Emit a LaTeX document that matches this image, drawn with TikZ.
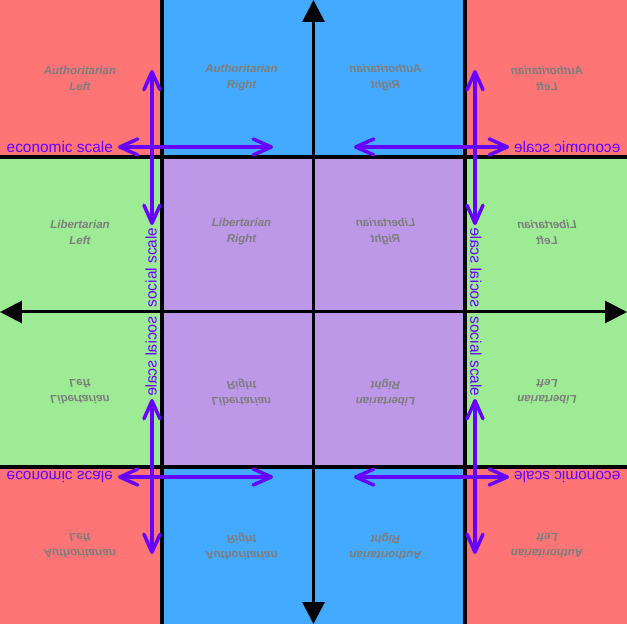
\documentclass[tikz,border=0pt]{standalone}
\usepackage{fontspec}
\setmainfont{Liberation Sans}
\usetikzlibrary{arrows.meta}
\definecolor{cred}{RGB}{255,117,117}
\definecolor{cblue}{RGB}{68,170,255}
\definecolor{cgreen}{RGB}{157,235,148}
\definecolor{cpurple}{RGB}{190,152,232}
\definecolor{txtgray}{RGB}{125,125,125}
\definecolor{apurple}{RGB}{102,0,255}
\tikzset{
  qlabel/.style={font=\fontsize{11.5}{16}\selectfont\bfseries\itshape, text=txtgray, align=center, inner sep=0pt},
  scalelabel/.style={font=\fontsize{15.4}{18}\selectfont, text=apurple, inner sep=0pt},
  scalearrow/.style={draw=apurple, line width=3.5pt, line cap=round,
    {Straight Barb[round,length=18pt,width=16pt]}-{Straight Barb[round,length=18pt,width=16pt]}},
  gridline/.style={draw=black, line width=4pt},
  axisline/.style={draw=black, line width=3pt,
    {Triangle[length=22pt,width=22pt]}-{Triangle[length=22pt,width=22pt]}}
}
\begin{document}
\begin{tikzpicture}[x=1pt,y=1pt]
\useasboundingbox (-313.5,-312) rectangle (313.5,312);
% cell fills
\fill[cred] (-313.5,154.5) rectangle (-151.5,312);
\fill[cred] (151.5,154.5) rectangle (313.5,312);
\fill[cred] (-313.5,-312) rectangle (-151.5,-154.5);
\fill[cred] (151.5,-312) rectangle (313.5,-154.5);
\fill[cblue] (-151.5,154.5) rectangle (151.5,312);
\fill[cblue] (-151.5,-312) rectangle (151.5,-154.5);
\fill[cgreen] (-313.5,-154.5) rectangle (-151.5,154.5);
\fill[cgreen] (151.5,-154.5) rectangle (313.5,154.5);
\fill[cpurple] (-151.5,-154.5) rectangle (151.5,154.5);
% grid lines
\coordinate (g1t) at (-151.5,312); \coordinate (g1b) at (-151.5,-312);
\coordinate (g2t) at (151.5,312);  \coordinate (g2b) at (151.5,-312);
\coordinate (g3l) at (-313.5,154.5); \coordinate (g3r) at (313.5,154.5);
\coordinate (g4l) at (-313.5,-154.5); \coordinate (g4r) at (313.5,-154.5);
\draw[gridline] (g1t) -- (g1b);
\draw[gridline] (g2t) -- (g2b);
\draw[gridline] (g3l) -- (g3r);
\draw[gridline] (g4l) -- (g4r);
% main axes
\coordinate (axt) at (0,312); \coordinate (axb) at (0,-312);
\coordinate (axl) at (-313.5,0); \coordinate (axr) at (313.5,0);
\draw[axisline] (axt) -- (axb);
\draw[axisline] (axl) -- (axr);
% quadrant contents (mirrored copies)
\foreach \sx/\sy/\k in {1/1/a,-1/1/b,1/-1/c,-1/-1/d}{
  \begin{scope}[xscale=\sx,yscale=\sy,transform shape]
    \node[qlabel] (al\k) at (-233.5,234) {Authoritarian\\Left};
    \node[qlabel] (ar\k) at (-72,234) {Authoritarian\\Right};
    \node[qlabel] (ll\k) at (-233.5,80) {Libertarian\\Left};
    \node[qlabel] (lr\k) at (-72,80) {Libertarian\\Right};
    \node[scalelabel] (es\k) at (-253.7,165) {economic scale};
    \node[scalelabel, rotate=90] (ss\k) at (-162.5,44.5) {social scale};
    \coordinate (vt\k) at (-161.5,242);
    \coordinate (vb\k) at (-161.5,87);
    \coordinate (hl\k) at (-195.5,165);
    \coordinate (hr\k) at (-40.5,165);
    \draw[scalearrow] (vt\k) -- (vb\k);
    \draw[scalearrow] (hl\k) -- (hr\k);
  \end{scope}
}
\end{tikzpicture}
\end{document}
